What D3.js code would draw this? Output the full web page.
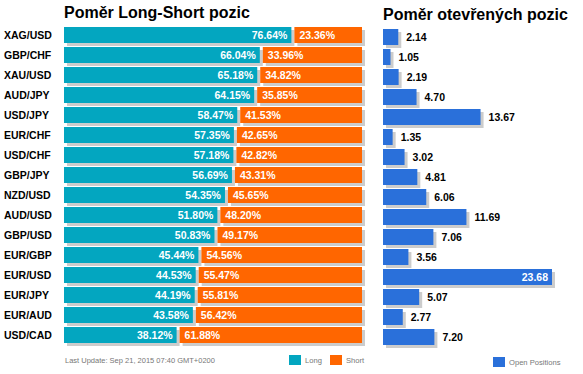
<!DOCTYPE html>
<html>
<head>
<meta charset="utf-8">
<script src="https://cdn.jsdelivr.net/npm/d3@7"></script>
<style>
  body { margin: 0; background: #fff; }
  svg { font-family: "Liberation Sans", Arial, sans-serif; }
</style>
</head>
<body>
<div id="chart"></div>
<script>
const pairs = ['XAG/USD', 'GBP/CHF', 'XAU/USD', 'AUD/JPY', 'USD/JPY', 'EUR/CHF', 'USD/CHF', 'GBP/JPY',
               'NZD/USD', 'AUD/USD', 'GBP/USD', 'EUR/GBP', 'EUR/USD', 'EUR/JPY', 'EUR/AUD', 'USD/CAD'];
const longPct = [76.64, 66.04, 65.18, 64.15, 58.47, 57.35, 57.18, 56.69, 54.35, 51.80, 50.83, 45.44, 44.53, 44.19, 43.58, 38.12];
const shortPct = [23.36, 33.96, 34.82, 35.85, 41.53, 42.65, 42.82, 43.31, 45.65, 48.20, 49.17, 54.56, 55.47, 55.81, 56.42, 61.88];
const openPos = [2.14, 1.05, 2.19, 4.70, 13.67, 1.35, 3.02, 4.81, 6.06, 11.69, 7.06, 3.56, 23.68, 5.07, 2.77, 7.20];

const width = 583, height = 374;
const colLong = '#03a6c0', colShort = '#ff6600', colOpen = '#2a70da', colShadow = '#cccccc';

const svg = d3.select('#chart').append('svg')
  .attr('width', width).attr('height', height);

const y = d3.scaleBand().domain(pairs).range([27, 343]).paddingInner(0.2);
const xL = d3.scaleLinear().domain([0, 100]).range([64, 362]);
const xR = d3.scaleLinear().domain([0, d3.max(openPos)]).range([383, 552]);
const bh = y.bandwidth();

// titles
svg.append('text').attr('x', 64).attr('y', 18)
  .attr('font-size', 16).attr('font-weight', 'bold').text('Poměr Long-Short pozic');
svg.append('text').attr('x', 383).attr('y', 20)
  .attr('font-size', 16).attr('font-weight', 'bold').text('Poměr otevřených pozic');

const rows = pairs.map((p, i) => ({ p, l: longPct[i], s: shortPct[i], o: openPos[i] }));

// pair labels
svg.selectAll('text.pair').data(rows).enter().append('text')
  .attr('class', 'pair')
  .attr('x', 4).attr('y', d => y(d.p) + bh / 2).attr('dy', '0.35em')
  .attr('font-size', 10.5).attr('font-weight', 'bold').text(d => d.p);

// left: shadows
const left = svg.append('g');
left.selectAll('rect.shL').data(rows).enter().append('rect')
  .attr('x', xL(0) + 3).attr('y', d => y(d.p) + 3)
  .attr('width', d => xL(d.l) - xL(0) - 1).attr('height', bh).attr('fill', colShadow);
left.selectAll('rect.shS').data(rows).enter().append('rect')
  .attr('x', d => xL(d.l) + 5).attr('y', d => y(d.p) + 3)
  .attr('width', d => xL(100) - xL(d.l) - 2).attr('height', bh).attr('fill', colShadow);

left.selectAll('rect.long').data(rows).enter().append('rect')
  .attr('x', xL(0)).attr('y', d => y(d.p))
  .attr('width', d => xL(d.l) - xL(0) - 1).attr('height', bh).attr('fill', colLong);
left.selectAll('rect.short').data(rows).enter().append('rect')
  .attr('x', d => xL(d.l) + 2).attr('y', d => y(d.p))
  .attr('width', d => xL(100) - xL(d.l) - 2).attr('height', bh).attr('fill', colShort);

left.selectAll('text.lv').data(rows).enter().append('text')
  .attr('x', d => xL(d.l) - 5).attr('y', d => y(d.p) + bh / 2).attr('dy', '0.36em')
  .attr('text-anchor', 'end').attr('fill', '#fff')
  .attr('font-size', 10.5).attr('font-weight', 'bold').text(d => d.l.toFixed(2) + '%');
left.selectAll('text.sv').data(rows).enter().append('text')
  .attr('x', d => xL(d.l) + 7).attr('y', d => y(d.p) + bh / 2).attr('dy', '0.36em')
  .attr('fill', '#fff')
  .attr('font-size', 10.5).attr('font-weight', 'bold').text(d => d.s.toFixed(2) + '%');

// right: open positions
const right = svg.append('g').attr('transform', 'translate(0,2)');
const maxO = d3.max(openPos);
right.selectAll('rect.sh').data(rows).enter().append('rect')
  .attr('x', xR(0) + 3).attr('y', d => y(d.p) + 3)
  .attr('width', d => xR(d.o) - xR(0)).attr('height', bh).attr('fill', colShadow);
right.selectAll('rect.open').data(rows).enter().append('rect')
  .attr('x', xR(0)).attr('y', d => y(d.p))
  .attr('width', d => xR(d.o) - xR(0)).attr('height', bh).attr('fill', colOpen);
right.selectAll('text.ov').data(rows).enter().append('text')
  .attr('x', d => d.o === maxO ? xR(d.o) - 4 : xR(d.o) + 8)
  .attr('y', d => y(d.p) + bh / 2).attr('dy', '0.36em')
  .attr('text-anchor', d => d.o === maxO ? 'end' : 'start')
  .attr('fill', d => d.o === maxO ? '#fff' : '#000')
  .attr('font-size', 10.5).attr('font-weight', 'bold').text(d => d.o.toFixed(2));

// footer
svg.append('text').attr('x', 65).attr('y', 363)
  .attr('font-size', 7.5).attr('fill', '#777')
  .text('Last Update: Sep 21, 2015 07:40 GMT+0200');

const legend = [
  { label: 'Long', color: colLong, x: 289, y: 355 },
  { label: 'Short', color: colShort, x: 330, y: 355 },
  { label: 'Open Positions', color: colOpen, x: 493, y: 357 }
];
const lg = svg.selectAll('g.lg').data(legend).enter().append('g');
lg.append('rect').attr('x', d => d.x).attr('y', d => d.y)
  .attr('width', 12).attr('height', 10).attr('fill', d => d.color);
lg.append('text').attr('x', d => d.x + 16).attr('y', d => d.y + 8)
  .attr('font-size', 7.6).attr('fill', '#777').text(d => d.label);
</script>
</body>
</html>
